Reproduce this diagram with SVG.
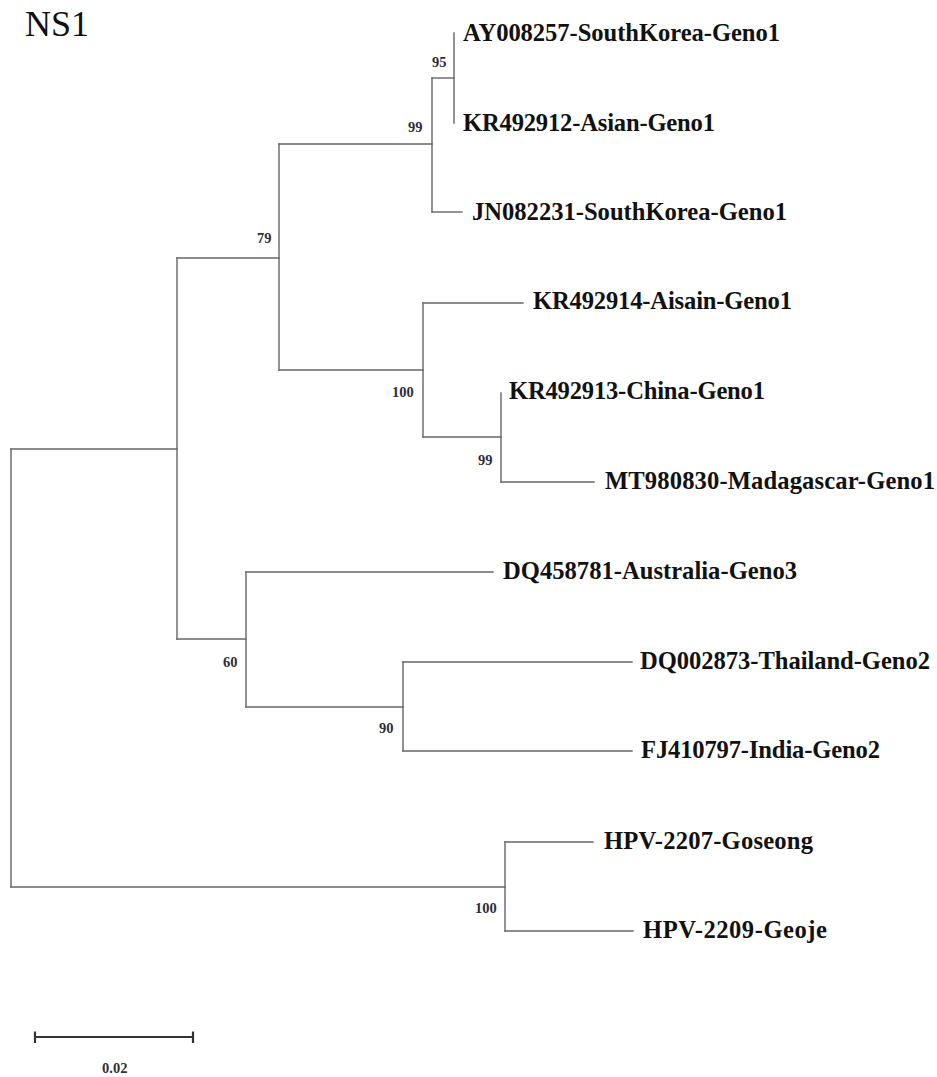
<svg xmlns="http://www.w3.org/2000/svg" width="937" height="1077" viewBox="0 0 937 1077">
<style>
.br{fill:none;stroke:#666;stroke-width:1.4;stroke-linecap:square}
.lab{font-family:"Liberation Serif",serif;font-weight:bold;font-size:24.6px;fill:#111}
.bs{font-family:"Liberation Serif",serif;font-weight:bold;font-size:14.5px;fill:#2e2e3a}
.title{font-family:"Liberation Serif",serif;font-size:36px;fill:#111}
.sc{fill:none;stroke:#333;stroke-width:2.2}
</style>
<rect width="937" height="1077" fill="#fff"/>
<text class="title" x="25" y="36">NS1</text>
<g id="connectors">
<path class="br" d="M11,449 V887"/>
<path class="br" d="M11,449 H177"/>
<path class="br" d="M11,887 H505"/>
<path class="br" d="M177,258 V639"/>
<path class="br" d="M177,258 H279"/>
<path class="br" d="M177,639 H246"/>
<path class="br" d="M279,144 V370"/>
<path class="br" d="M279,144 H432"/>
<path class="br" d="M279,370 H423"/>
<path class="br" d="M432,78 V212"/>
<path class="br" d="M432,78 H454"/>
<path class="br" d="M432,212 H462"/>
<path class="br" d="M454,33 V123"/>
<path class="br" d="M423,303 V437"/>
<path class="br" d="M423,303 H523"/>
<path class="br" d="M423,437 H501"/>
<path class="br" d="M501,393 V482"/>
<path class="br" d="M501,482 H594"/>
<path class="br" d="M246,572 V707"/>
<path class="br" d="M246,572 H493"/>
<path class="br" d="M246,707 H403"/>
<path class="br" d="M403,662 V751"/>
<path class="br" d="M403,662 H632"/>
<path class="br" d="M403,751 H632"/>
<path class="br" d="M505,842 V931"/>
<path class="br" d="M505,842 H593"/>
<path class="br" d="M505,931 H633"/>
</g>
<g id="n95"><text class="bs" x="432" y="67">95</text></g>
<g id="n99a"><text class="bs" x="408" y="132">99</text></g>
<g id="n79"><text class="bs" x="257" y="243">79</text></g>
<g id="n100a"><text class="bs" x="392" y="397">100</text></g>
<g id="n99b"><text class="bs" x="478" y="465">99</text></g>
<g id="n60"><text class="bs" x="223" y="667">60</text></g>
<g id="n90"><text class="bs" x="379" y="733">90</text></g>
<g id="n100c"><text class="bs" x="475" y="913">100</text></g>
<g id="leaf1"><text class="lab" x="463" y="41" textLength="317">AY008257-SouthKorea-Geno1</text></g>
<g id="leaf2"><text class="lab" x="463" y="131" textLength="252">KR492912-Asian-Geno1</text></g>
<g id="leaf3"><text class="lab" x="472" y="220" textLength="315">JN082231-SouthKorea-Geno1</text></g>
<g id="leaf4"><text class="lab" x="533" y="309" textLength="259">KR492914-Aisain-Geno1</text></g>
<g id="leaf5"><text class="lab" x="509" y="399" textLength="256">KR492913-China-Geno1</text></g>
<g id="leaf6"><text class="lab" x="605" y="489" textLength="330">MT980830-Madagascar-Geno1</text></g>
<g id="leaf7"><text class="lab" x="503" y="579" textLength="294">DQ458781-Australia-Geno3</text></g>
<g id="leaf8"><text class="lab" x="640" y="669" textLength="290">DQ002873-Thailand-Geno2</text></g>
<g id="leaf9"><text class="lab" x="641" y="758" textLength="239">FJ410797-India-Geno2</text></g>
<g id="leaf10"><text class="lab" x="604" y="849" textLength="209">HPV-2207-Goseong</text></g>
<g id="leaf11"><text class="lab" x="643" y="938" textLength="184">HPV-2209-Geoje</text></g>
<g id="scalebar">
<path class="sc" d="M35,1037 H193 M35,1031.5 V1043 M193,1031.5 V1043"/>
<text class="bs" x="102" y="1073" font-size="14">0.02</text>
</g>
</svg>
